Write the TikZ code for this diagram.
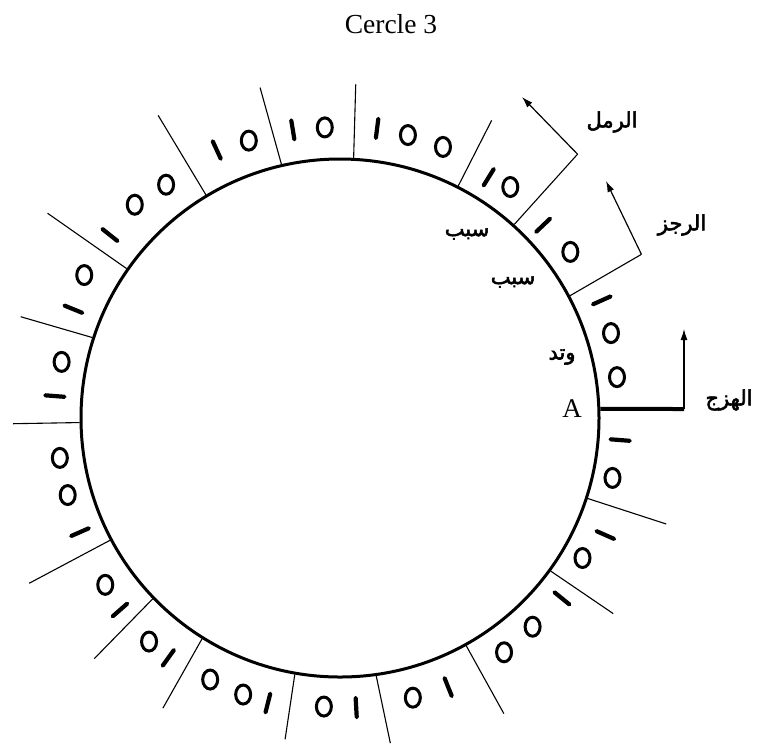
\documentclass[tikz,border=0pt]{standalone}
\usepackage{fontspec}
\setmainfont{Liberation Serif}
\newfontfamily\arabicfont[Script=Arabic, FakeBold=2.5]{DejaVu Sans}
\TeXXeTstate=1
\usetikzlibrary{shapes.geometric,arrows.meta}
\begin{document}
\begin{tikzpicture}[x=1pt,y=1pt,
  zero/.style={draw, ellipse, line width=3pt, minimum width=15pt, minimum height=19pt, inner sep=0pt},
  one/.style={fill, rectangle, minimum width=23pt, minimum height=4.2pt, inner sep=0pt, rounded corners=1.8pt},
  divider/.style={line width=1.1pt},
  arabic/.style={font=\arabicfont\fontsize{21}{24}\selectfont, inner sep=0pt},
  feetarrow/.style={line width=1.2pt, -{Latex[length=11pt,width=7pt]}}
]
\path[fill=white] (0,0) rectangle (757,-748);
\useasboundingbox (0,0) rectangle (757,-748);
\coordinate (C) at (340,-418);
\node[draw, circle, line width=3pt, minimum size=518pt, inner sep=0pt] (circ) at (C) {};
% dividers
\foreach \a/\r [count=\i] in {63/334, 87.3/334, 103.6/340, 121/353, 145/357, 162.4/335, 181/327, 208/352, 224.4/344, 238.6/340, 260.3/326, 278.8/329, 299/338, 324.4/336, 342/343}{
  \coordinate (d\i) at ([shift={(\a:\r pt)}]C);
  \draw[divider] (circ.\a) -- (d\i);
}
% zeros
\foreach \a/\r [count=\i] in {8.4/280, 17.4/284, 35.8/284, 53.6/287, 76.5/291, 69.2/290, 93/291, 108.2/292, 133.9/296, 126.7/291, 150.8/293, 168.6/284, 188.1/283, 195.8/283, 215.4/288, 229.5/294, 243.6/292, 250.7/293, 266.8/289, 284.6/289, 305/286, 312.7/284, 330/280, 347.6/279}{
  \node[zero] (z\i) at ([shift={(\a:\r pt)}]C) {};
}
% ones
\foreach \a/\r [count=\i] in {24.2/287, 43.5/280, 58.3/283, 82.7/292, 99.3/292, 114.7/295, 141.5/294, 157.8/288, 175.6/286, 203.7/284, 221.1/292, 234.4/295, 255.8/294, 273.2/290, 291.9/290, 320.9/286, 336.2/290, 355.5/281}{
  \node[one, rotate=\a] (u\i) at ([shift={(\a:\r pt)}]C) {};
}
% hazaj
\coordinate (hz) at (684,-409);
\coordinate (hztip) at (684,-329);
\draw[line width=4pt] (circ.2) -- (hz);
\draw[feetarrow] (hz) -- (hztip);
% rajaz
\coordinate (rj) at ([shift={(28.5:343pt)}]C);
\coordinate (rjtip) at (606,-181);
\draw[divider] (circ.28.5) -- (rj);
\draw[feetarrow] (rj) -- (rjtip);
% ramal
\coordinate (rm) at ([shift={(48:355pt)}]C);
\coordinate (rmtip) at (522,-97);
\draw[divider] (circ.48) -- (rm);
\draw[feetarrow] (rm) -- (rmtip);
% labels
\node[font=\fontsize{27.5}{30}\selectfont] (title) at (391,-24) {Cercle 3};
\node[font=\fontsize{27}{29}\selectfont, inner sep=0pt] (A) at (572,-409) {A};
\node[arabic] (lramal) at (612,-122) {\beginR الرمل\endR};
\node[arabic] (lrajaz) at (682,-225) {\beginR الرجز\endR};
\node[arabic] (lhazaj) at (729,-400) {\beginR الهزج\endR};
\node[arabic] (sabab1) at (467,-234) {\beginR سبب\endR};
\node[arabic] (sabab2) at (513,-282) {\beginR سبب\endR};
\node[arabic] (watad) at (562,-357) {\beginR وتد\endR};
\end{tikzpicture}
\end{document}
